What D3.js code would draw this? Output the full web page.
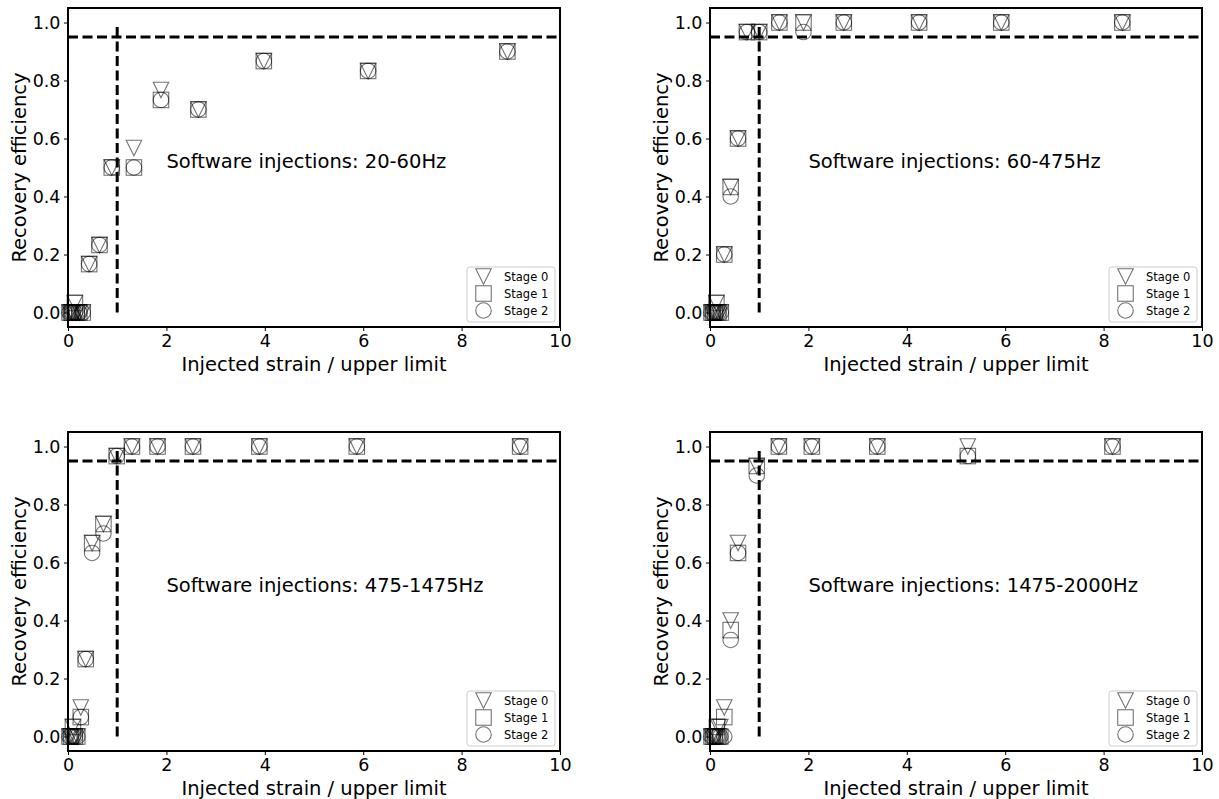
<!DOCTYPE html>
<html><head><meta charset="utf-8">
<script src="https://cdn.jsdelivr.net/npm/d3@7"></script>
<style>body{margin:0;background:#fff;font-family:"DejaVu Sans",sans-serif;}</style>
</head><body>
<svg id="c" width="1219" height="799"></svg>
<script>
// ---- data ----
const titles = ["Software injections: 20-60Hz","Software injections: 60-475Hz","Software injections: 475-1475Hz","Software injections: 1475-2000Hz"];
const stageLabels = ["Stage 0","Stage 1","Stage 2"];
const xTicks = [0,2,4,6,8,10];
const yTicks = [0.0,0.2,0.4,0.6,0.8,1.0];

const x1 = [0.03,0.06,0.09,0.14,0.18,0.23,0.3,0.43,0.64,0.89,1.34,1.89,2.65,3.98,6.1,8.93];
const s1_0 = [0,0,0,0.033,0,0,0,0.167,0.233,0.5,0.567,0.767,0.7,0.867,0.833,0.9];
const s1_1 = [0,0,0,0.033,0,0,0,0.167,0.233,0.5,0.5,0.733,0.7,0.867,0.833,0.9];
const s1_2 = [0,0,0,0,0,0,0,0.167,0.233,0.5,0.5,0.733,0.7,0.867,0.833,0.9];

const x2 = [0.03,0.06,0.1,0.13,0.17,0.22,0.29,0.42,0.57,0.75,1.0,1.41,1.9,2.72,4.25,5.92,8.38];
const s2_0 = [0,0,0,0.033,0,0,0.2,0.433,0.6,0.967,0.967,1,1,1,1,1,1];
const s2_1 = [0,0,0,0.033,0,0,0.2,0.433,0.6,0.967,0.967,1,1,1,1,1,1];
const s2_2 = [0,0,0,0,0,0,0.2,0.4,0.6,0.967,0.967,1,0.967,1,1,1,1];

const x3 = [0.03,0.06,0.1,0.14,0.19,0.26,0.36,0.49,0.72,0.99,1.3,1.82,2.54,3.89,5.87,9.19];
const s3_0 = [0,0,0.033,0,0,0.1,0.267,0.667,0.733,0.967,1,1,1,1,1,1];
const s3_1 = [0,0,0.033,0,0,0.067,0.267,0.667,0.733,0.967,1,1,1,1,1,1];
const s3_2 = [0,0,0,0,0,0.067,0.267,0.633,0.7,0.967,1,1,1,1,1,1];

const x4 = [0.03,0.06,0.1,0.14,0.17,0.21,0.29,0.42,0.57,0.95,1.4,2.07,3.4,5.24,8.18];
const s4_0 = [0,0,0,0,0.033,0.033,0.1,0.4,0.667,0.933,1,1,1,1,1];
const s4_1 = [0,0,0,0.033,0,0,0.067,0.367,0.633,0.933,1,1,1,0.967,1];
const s4_2 = [0,0,0,0,0,0,0,0.333,0.633,0.9,1,1,1,0.967,1];

const panelsData = [
  {x:x1, s:[s1_0,s1_1,s1_2]},
  {x:x2, s:[s2_0,s2_1,s2_2]},
  {x:x3, s:[s3_0,s3_1,s3_2]},
  {x:x4, s:[s4_0,s4_1,s4_2]}
];

// ---- layout ----
const svg = d3.select("#c");
const lefts = [68,710,68,710], tops = [8,8,432,432];
const W = 492, H = 319;
const MS = 15.5;
const markStroke = "rgba(0,0,0,0.55)";

function marker(g, type, cx, cy){
  const h = MS/2;
  if(type===0){
    g.append("path").attr("d",`M${cx-h},${cy-h}L${cx+h},${cy-h}L${cx},${cy+h}Z`)
      .attr("fill","none").attr("stroke",markStroke).attr("stroke-width",1.1);
  } else if(type===1){
    g.append("rect").attr("x",cx-h).attr("y",cy-h).attr("width",MS).attr("height",MS)
      .attr("fill","none").attr("stroke",markStroke).attr("stroke-width",1.1);
  } else {
    g.append("circle").attr("cx",cx).attr("cy",cy).attr("r",h)
      .attr("fill","none").attr("stroke",markStroke).attr("stroke-width",1.1);
  }
}

panelsData.forEach((pd,i)=>{
  const L = lefts[i], T = tops[i];
  const g = svg.append("g").attr("transform",`translate(${L},${T})`);
  const x = d3.scaleLinear().domain([0,10]).range([0,W]);
  const y = d3.scaleLinear().domain([-0.05,1.05]).range([H,0]);

  // points
  const pg = g.append("g");
  pd.s.forEach((vals,k)=>{
    vals.forEach((v,j)=>marker(pg,k,x(pd.x[j]),y(v)));
  });

  // dashed lines
  g.append("line").attr("x1",0).attr("x2",W).attr("y1",y(0.95)).attr("y2",y(0.95))
    .attr("stroke","#000").attr("stroke-width",3).attr("stroke-dasharray","10,4.5");
  g.append("line").attr("x1",x(1)).attr("x2",x(1)).attr("y1",y(0)).attr("y2",y(1))
    .attr("stroke","#000").attr("stroke-width",3).attr("stroke-dasharray","10,4.5");

  // annotation
  g.append("text").attr("x",x(2)).attr("y",y(0.5)).attr("font-size",19.5)
    .attr("fill","#000").text(titles[i]);

  // axes
  const xa = g.append("g").attr("transform",`translate(0,${H})`)
    .call(d3.axisBottom(x).tickValues(xTicks).tickFormat(d3.format("d")).tickSizeOuter(0).tickSize(4).tickPadding(3.5));
  const ya = g.append("g")
    .call(d3.axisLeft(y).tickValues(yTicks).tickFormat(d3.format(".1f")).tickSizeOuter(0).tickSize(4).tickPadding(3.5));
  [xa,ya].forEach(a=>{
    a.select(".domain").remove();
    a.selectAll("text").attr("font-size",17.5).attr("font-family","DejaVu Sans").attr("fill","#000");
    a.selectAll("line").attr("stroke","#000").attr("stroke-width",1);
  });
  // frame
  g.append("rect").attr("x",0).attr("y",0).attr("width",W).attr("height",H)
    .attr("fill","none").attr("stroke","#000").attr("stroke-width",2);

  // axis labels
  g.append("text").attr("x",W/2).attr("y",H+44).attr("text-anchor","middle")
    .attr("font-size",19.5).text("Injected strain / upper limit");
  g.append("text").attr("transform",`translate(${-42},${H/2}) rotate(-90)`)
    .attr("text-anchor","middle").attr("font-size",19.5).text("Recovery efficiency");

  // legend
  const lg = g.append("g").attr("transform",`translate(${W-93},${H-60})`);
  lg.append("rect").attr("x",0).attr("y",0).attr("width",88).attr("height",55).attr("rx",3)
    .attr("fill","rgba(255,255,255,0.85)").attr("stroke","#ccc").attr("stroke-width",1);
  stageLabels.forEach((s,k)=>{
    const cy = 9.5 + k*17;
    marker(lg,k,16.5,cy);
    lg.append("text").attr("x",37).attr("y",cy+4).attr("font-size",11.5).attr("fill","#000").text(s);
  });
});
</script>
</body></html>
